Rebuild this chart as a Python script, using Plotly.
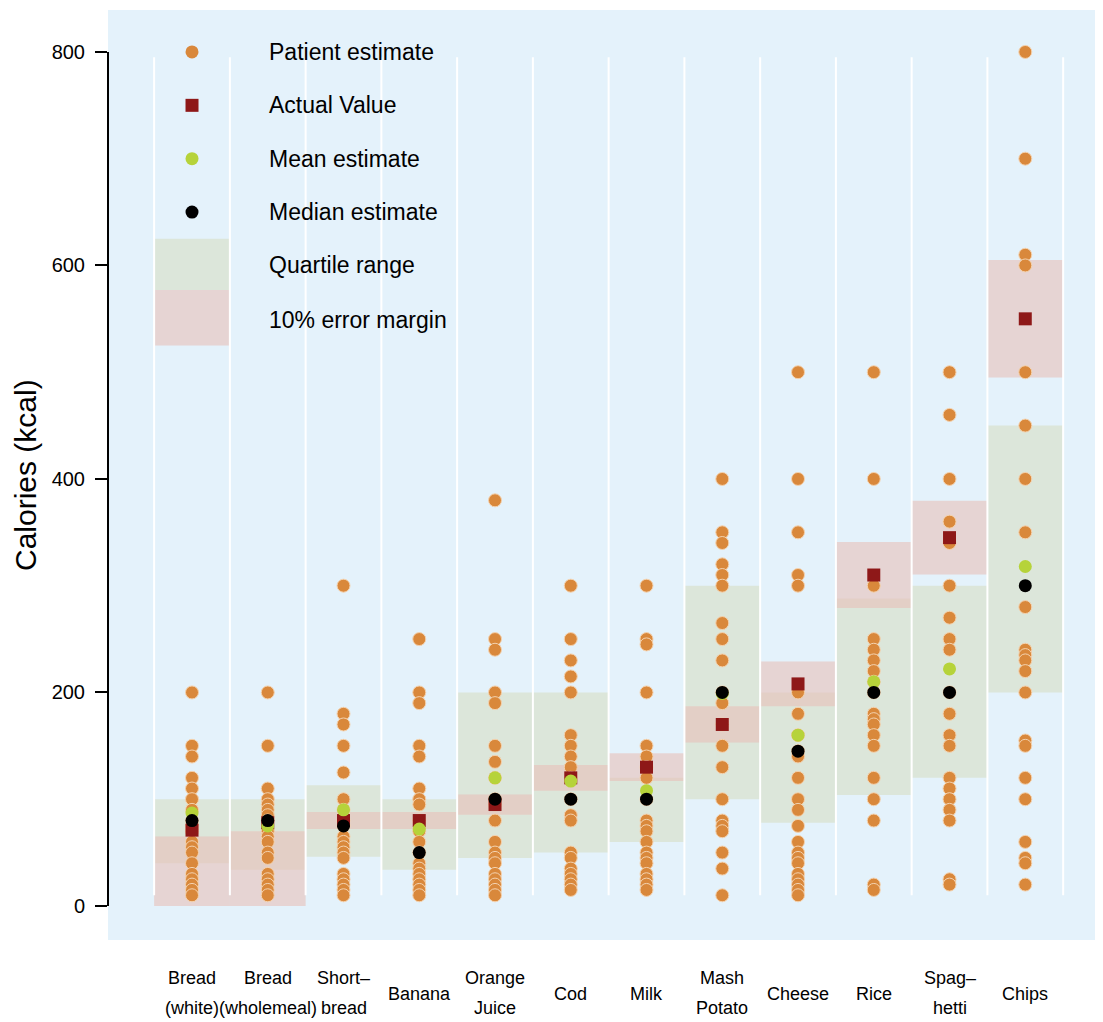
import plotly.graph_objects as go

# ---------------- data ----------------
categories = ["Bread<br>(white)", "Bread<br>(wholemeal)", "Short–<br>bread", "Banana",
              "Orange<br>Juice", "Cod", "Milk", "Mash<br>Potato", "Cheese", "Rice",
              "Spag–<br>hetti", "Chips"]

bread_white = [200, 150, 140, 120, 110, 100, 90, 80, 75, 70, 60, 55, 50, 40, 30, 25, 20, 15, 10]
bread_wholemeal = [200, 150, 110, 100, 95, 90, 85, 80, 70, 65, 60, 50, 45, 30, 25, 20, 15, 10]
shortbread = [300, 180, 170, 150, 125, 100, 90, 80, 75, 65, 60, 55, 50, 45, 30, 25, 20, 15, 10]
banana = [250, 200, 190, 150, 140, 110, 100, 95, 80, 70, 60, 50, 40, 35, 30, 25, 20, 15, 10]
orange_juice = [380, 250, 240, 200, 190, 150, 135, 120, 100, 95, 80, 60, 50, 45, 40, 30, 25, 20, 15, 10]
cod = [300, 250, 230, 215, 200, 160, 150, 140, 130, 120, 100, 85, 80, 50, 45, 35, 30, 25, 20, 15]
milk = [300, 250, 245, 200, 150, 140, 130, 120, 100, 80, 75, 70, 60, 50, 45, 40, 30, 25, 20, 15]
mash_potato = [400, 350, 340, 320, 310, 300, 265, 250, 230, 200, 190, 170, 150, 130, 100, 80, 75, 70, 50, 35, 10]
cheese = [500, 400, 350, 310, 300, 200, 180, 160, 145, 140, 120, 100, 90, 75, 60, 50, 45, 40, 30, 25, 20, 15, 10]
rice = [500, 400, 300, 250, 240, 230, 220, 210, 200, 180, 175, 170, 160, 150, 120, 100, 80, 20, 15]
spaghetti = [500, 460, 400, 360, 340, 300, 270, 250, 240, 200, 180, 160, 150, 120, 110, 100, 90, 80, 25, 20]
chips = [800, 700, 610, 600, 500, 450, 400, 350, 280, 240, 235, 230, 220, 200, 155, 150, 120, 100, 60, 45, 40, 20]

patient_estimates = [bread_white, bread_wholemeal, shortbread, banana, orange_juice, cod,
                     milk, mash_potato, cheese, rice, spaghetti, chips]

actual_value = [71, 78, 80, 80, 95, 120, 130, 170, 208, 310, 345, 550]
mean_estimate = [87, 75, 90, 72, 120, 117, 108, 199, 160, 210, 222, 318]
median_estimate = [80, 80, 75, 50, 100, 100, 100, 200, 145, 200, 200, 300]
quartile_low = [40, 34, 46, 34, 45, 50, 60, 100, 78, 104, 120, 200]
quartile_high = [100, 100, 113, 100, 200, 200, 120, 300, 200, 288, 300, 450]
error_low = [0, 0, 72, 72, 85.5, 108, 117, 153, 187, 279, 310.5, 495]
error_high = [65, 70, 88, 88, 104.5, 132, 143, 187, 229, 341, 379.5, 605]

legend_labels = ["Patient estimate", "Actual Value", "Mean estimate", "Median estimate",
                 "Quartile range", "10% error margin"]

# ---------------- styles ----------------
ORANGE = "#d9883b"
RED = "#8e1818"
GREEN = "#b6d33a"
BLACK = "#000000"
QUART = "#dce6da"
ERR = "rgba(231,191,185,0.6)"
BG = "#e4f2fb"
SANS = "Liberation Sans, Arial, sans-serif"
MS = 13

fig = go.Figure()

shapes = []
for i in range(len(categories)):
    shapes.append(dict(type="rect", xref="x", yref="y", x0=i - 0.5, x1=i + 0.5,
                       y0=quartile_low[i], y1=quartile_high[i], fillcolor=QUART,
                       line=dict(width=0), layer="below"))
for i in range(len(categories)):
    shapes.append(dict(type="rect", xref="x", yref="y", x0=i - 0.5, x1=i + 0.5,
                       y0=error_low[i], y1=error_high[i], fillcolor=ERR,
                       line=dict(width=0), layer="below"))
# legend swatches (in first column)
shapes.append(dict(type="rect", xref="x", yref="y", x0=-0.5, x1=0.5, y0=577, y1=625,
                   fillcolor=QUART, line=dict(width=0), layer="below"))
shapes.append(dict(type="rect", xref="x", yref="y", x0=-0.5, x1=0.5, y0=525, y1=577,
                   fillcolor=ERR, line=dict(width=0), layer="below"))
# white separators
for i in range(len(categories) + 1):
    shapes.append(dict(type="line", xref="x", yref="y", x0=i - 0.5, x1=i - 0.5,
                       y0=10, y1=795, line=dict(color="white", width=2), layer="below"))
# y axis line
shapes.append(dict(type="line", xref="paper", yref="y", x0=0, x1=0, y0=0, y1=800,
                   line=dict(color="black", width=2)))

px, py = [], []
for i, vals in enumerate(patient_estimates):
    px += [i] * len(vals)
    py += vals
fig.add_trace(go.Scatter(x=px, y=py, mode="markers",
                         marker=dict(color=ORANGE, size=MS, line=dict(color="#f4d3b0", width=1)),
                         showlegend=False, hoverinfo="y"))
xs = list(range(len(categories)))
fig.add_trace(go.Scatter(x=xs, y=actual_value, mode="markers",
                         marker=dict(color=RED, size=MS, symbol="square"), showlegend=False))
fig.add_trace(go.Scatter(x=xs, y=mean_estimate, mode="markers",
                         marker=dict(color=GREEN, size=MS), showlegend=False))
fig.add_trace(go.Scatter(x=xs, y=median_estimate, mode="markers",
                         marker=dict(color=BLACK, size=MS), showlegend=False))

# legend markers
fig.add_trace(go.Scatter(x=[0, 0, 0, 0], y=[800, 750, 700, 650], mode="markers",
                         marker=dict(color=[ORANGE, RED, GREEN, BLACK], size=MS,
                                     symbol=["circle", "square", "circle", "circle"]),
                         showlegend=False, hoverinfo="skip"))

annotations = []
legend_y = [800, 750, 700, 650, 600, 549]
for lab, yy in zip(legend_labels, legend_y):
    annotations.append(dict(x=0.99, y=yy, xref="x", yref="y", text=lab, showarrow=False,
                            xanchor="left", yanchor="middle",
                            font=dict(family=SANS, size=23, color="black")))
for i, c in enumerate(categories):
    lines = c.split("<br>")
    shifts = [-54] if len(lines) == 1 else [-38, -68]
    for ln, sh in zip(lines, shifts):
        annotations.append(dict(x=i, y=0, xref="x", yref="paper", text=ln, showarrow=False,
                                xanchor="center", yanchor="middle", yshift=sh,
                                font=dict(family=SANS, size=18, color="black")))
annotations.append(dict(x=0, y=0.5, xref="paper", yref="paper", text="Calories (kcal)",
                        showarrow=False, textangle=-90, xanchor="center", yanchor="middle",
                        xshift=-83, font=dict(family=SANS, size=30, color="black")))

# page body has an 8px margin: shrink the figure so the plot lands where the reference has it
fig.update_layout(
    width=1095, height=1014,
    margin=dict(l=100, r=0, t=2, b=82, autoexpand=False),
    paper_bgcolor="white", plot_bgcolor=BG,
    shapes=shapes, annotations=annotations,
    xaxis=dict(range=[-1.109, 12.026], showgrid=False, zeroline=False, showticklabels=False,
               showline=False, ticks=""),
    yaxis=dict(range=[-31.9, 839.3], tickvals=[0, 200, 400, 600, 800], ticks="outside",
               ticklen=12, tickwidth=2, tickcolor="black", showgrid=False, zeroline=False,
               showline=False, automargin=False, ticklabelstandoff=6,
               tickfont=dict(family=SANS, size=20, color="black")),
    showlegend=False,
)

fig.write_html("out.html")
